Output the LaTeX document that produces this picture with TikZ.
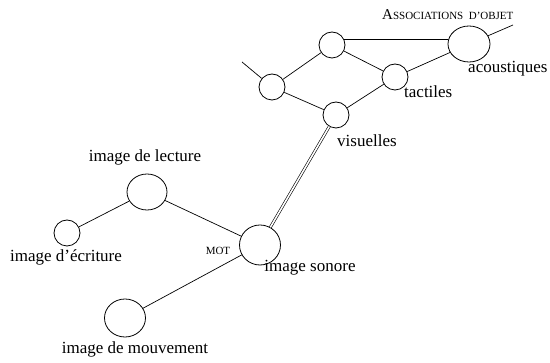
\documentclass[tikz,border=0pt]{standalone}
\usepackage{fontspec}
\setmainfont{Liberation Serif}
\usetikzlibrary{shapes.geometric}
\begin{document}
\begin{tikzpicture}[x=1pt,y=-1pt,
  circ/.style={draw,circle,minimum size=26pt,inner sep=0pt,line width=0.8pt},
  ell/.style={draw,ellipse,inner sep=0pt,line width=0.8pt},
  lnk/.style={line width=0.7pt},
  lab/.style={font=\fontsize{17}{19}\selectfont,inner sep=0pt},
  sc/.style={font=\fontsize{11}{13}\selectfont,inner sep=0pt}]
\useasboundingbox (0,0) rectangle (550,363);
% object associations
\node[circ] (top) at (332,45) {};
\node[circ] (left) at (272,87) {};
\node[circ] (tac) at (395,77) {};
\node[circ] (vis) at (336,115) {};
\node[ell,minimum width=42pt,minimum height=36pt] (ac) at (469,44) {};
\coordinate (lend) at (242,62);
\coordinate (rend) at (513,25);
\draw[lnk] (left) -- (lend);
\draw[lnk] (ac) -- (rend);
\draw[lnk] (left) -- (top);
\draw[lnk] (top.25) -- (ac.west |- top.25);
\draw[lnk] (top) -- (tac);
\draw[lnk] (left) -- (vis);
\draw[lnk] (vis) -- (tac);
\draw[lnk] (tac) -- (ac);
\node[anchor=west,inner sep=0pt] (assoc) at (382,15) {\fontsize{15}{17}\selectfont A\fontsize{11}{13}\selectfont SSOCIATIONS\ \ D'OBJET};
\node[lab,anchor=west] (lac) at (468,69) {acoustiques};
\node[lab,anchor=west] (ltac) at (404,92) {tactiles};
\node[lab,anchor=west] (lvis) at (337,141) {visuelles};
% word
\node[ell,minimum width=40pt,minimum height=36pt] (lec) at (147,192) {};
\node[circ] (ecr) at (67,233) {};
\node[ell,minimum width=41pt,minimum height=40pt] (son) at (260,245) {};
\node[ell,minimum width=41pt,minimum height=38pt] (mouv) at (125,318) {};
\draw[lnk] (ecr) -- (lec);
\draw[lnk] (lec) -- (son);
\draw[lnk] (mouv) -- (son);
\draw[line width=0.6pt,double distance=1.6pt] (son) -- (vis);
\node[lab] (llec) at (145,157) {image de lecture};
\node[lab] (lecr) at (66,257) {image d'écriture};
\node[sc] (mot) at (218,251) {MOT};
\node[lab] (lson) at (310,268) {image sonore};
\node[lab] (lmouv) at (135,349) {image de mouvement};
\end{tikzpicture}
\end{document}
